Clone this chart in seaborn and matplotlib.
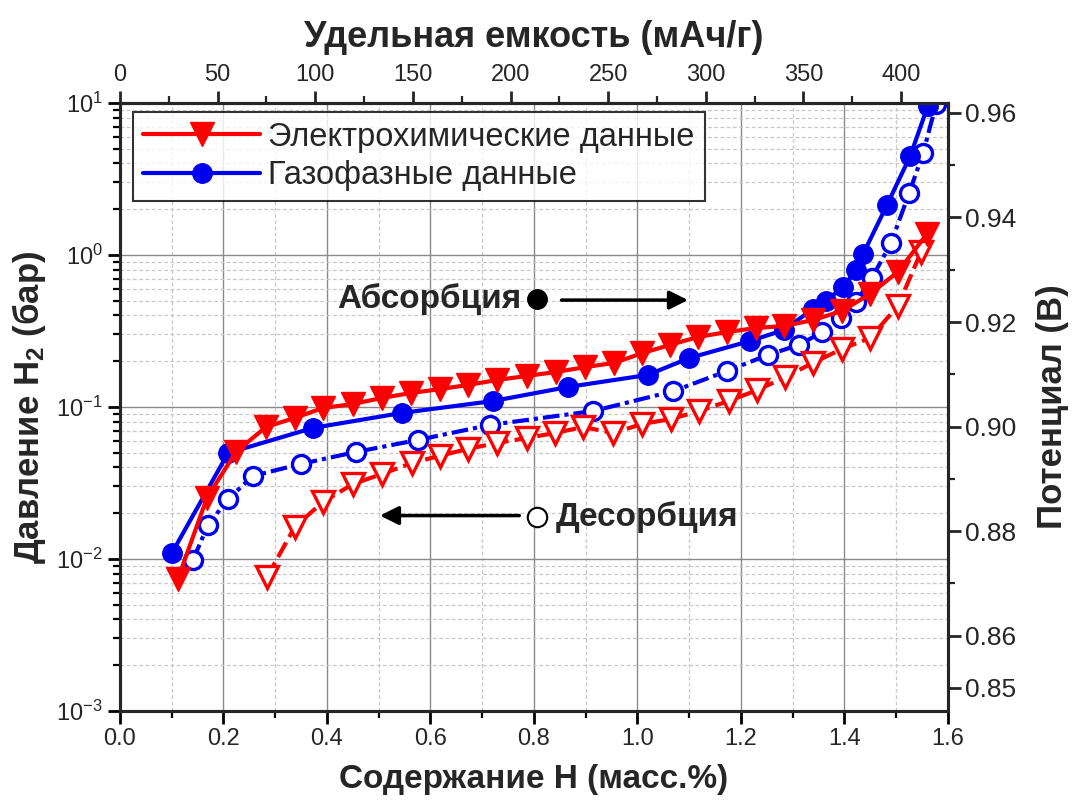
import numpy as np
import pandas as pd
import matplotlib
matplotlib.use("Agg")
import matplotlib.pyplot as plt
import seaborn as sns
from matplotlib.ticker import LogLocator, MultipleLocator, FixedLocator, NullFormatter, FormatStrFormatter

# ---------------- data ----------------
# Electrochemical data, absorption (filled red triangles)
ec_abs_x = [0.112, 0.168, 0.224, 0.282, 0.338, 0.392, 0.450, 0.506, 0.562, 0.618, 0.672, 0.729,
            0.786, 0.843, 0.899, 0.955, 1.009, 1.063, 1.117, 1.173, 1.229, 1.283, 1.339, 1.395,
            1.449, 1.503, 1.559]
ec_abs_p = [0.0074, 0.0252, 0.0506, 0.0738, 0.0848, 0.0984, 0.1047, 0.1146, 0.1236, 0.131, 0.1396,
            0.1506, 0.160, 0.170, 0.183, 0.195, 0.226, 0.256, 0.289, 0.311, 0.331, 0.341, 0.373,
            0.428, 0.553, 0.773, 1.37]
# Electrochemical data, desorption (open red triangles)
ec_des_x = [0.284, 0.338, 0.392, 0.450, 0.506, 0.564, 0.618, 0.672, 0.729, 0.786, 0.841, 0.895,
            0.953, 1.009, 1.065, 1.119, 1.176, 1.231, 1.285, 1.339, 1.395, 1.449, 1.503, 1.548]
ec_des_p = [0.0076, 0.0163, 0.0237, 0.0311, 0.0362, 0.0428, 0.0477, 0.053, 0.058, 0.0625, 0.0675,
            0.0738, 0.0675, 0.0773, 0.0834, 0.094, 0.1095, 0.129, 0.157, 0.195, 0.241, 0.284,
            0.461, 1.05]
# Gas-phase data, absorption (filled blue circles)
gas_abs_x = [0.100, 0.209, 0.373, 0.545, 0.721, 0.866, 1.020, 1.100, 1.217, 1.283, 1.339, 1.364,
             1.397, 1.422, 1.436, 1.482, 1.527, 1.561]
gas_abs_p = [0.0109, 0.0498, 0.0728, 0.0914, 0.1095, 0.1355, 0.1625, 0.210, 0.2715, 0.321, 0.4415,
             0.498, 0.615, 0.796, 1.016, 2.13, 4.48, 9.55]
# Gas-phase data, desorption (open blue circles)
gas_des_x = [0.141, 0.170, 0.209, 0.257, 0.350, 0.456, 0.576, 0.715, 0.914, 1.069, 1.173, 1.252,
             1.312, 1.357, 1.393, 1.422, 1.453, 1.490, 1.525, 1.552, 1.577]
gas_des_p = [0.00984, 0.0167, 0.0248, 0.0352, 0.0422, 0.0506, 0.0607, 0.0762, 0.094, 0.127, 0.1725,
             0.220, 0.256, 0.311, 0.385, 0.491, 0.706, 1.20, 2.56, 4.69, 9.85]

legend_labels = ["Электрохимические данные", "Газофазные данные"]
x_label = "Содержание H (масс.%)"
y_label = "Давление H$_\\mathbf{2}$ (бар)"
top_label = "Удельная емкость (мАч/г)"
right_label = "Потенциал (В)"
right_ticks = [0.85, 0.86, 0.88, 0.90, 0.92, 0.94, 0.96]
top_ticks = [0, 50, 100, 150, 200, 250, 300, 350, 400]
capacity_per_wt = 265.0  # mAh/g per wt.% H

# ---------------- style ----------------
sns.set_theme(style="white")
plt.rcParams['font.family'] = ['Liberation Sans', 'DejaVu Sans']
plt.rcParams['mathtext.fontset'] = 'custom'
plt.rcParams['mathtext.rm'] = 'Liberation Sans'
plt.rcParams['mathtext.bf'] = 'Liberation Sans:bold'
plt.rcParams['mathtext.it'] = 'Liberation Sans:italic'

RED = '#ff0000'
BLUE = '#0000f0'

fig = plt.figure(figsize=(10.73, 8.01), dpi=100)
ax = fig.add_axes([0.1118, 0.1124, 0.7717, 0.759])

ax.set_yscale('log')
ax.set_xlim(0, 1.6)
ax.set_ylim(1e-3, 1e1)

# grid
ax.xaxis.set_major_locator(MultipleLocator(0.2))
ax.xaxis.set_minor_locator(MultipleLocator(0.1))
ax.yaxis.set_major_locator(LogLocator(base=10, numticks=10))
ax.yaxis.set_minor_locator(LogLocator(base=10, subs=np.arange(2, 10), numticks=20))
ax.yaxis.set_minor_formatter(NullFormatter())
ax.grid(True, which='major', color='#8a8a8a', lw=1.0, ls='-', zorder=0)
ax.grid(True, which='minor', color='#c8c8c8', lw=0.9, ls=(0, (3, 2)), zorder=0)
ax.set_axisbelow(True)

lw = 3.0
# desorption curves (open markers)
sns.lineplot(x=gas_des_x, y=gas_des_p, ax=ax, sort=False, estimator=None, color=BLUE,
             lw=lw, linestyle=(0, (4, 1.2, 1, 1.2)), marker='o', markersize=13,
             markerfacecolor='white', markeredgecolor=BLUE, markeredgewidth=2.4, zorder=3)
sns.lineplot(x=ec_des_x, y=ec_des_p, ax=ax, sort=False, estimator=None, color=RED,
             lw=lw, linestyle=(0, (4, 1.5)), marker='v', markersize=16,
             markerfacecolor='white', markeredgecolor=RED, markeredgewidth=2.4, zorder=3)
# absorption curves (filled markers)
sns.lineplot(x=gas_abs_x, y=gas_abs_p, ax=ax, sort=False, estimator=None, color=BLUE,
             lw=lw, linestyle='-', marker='o', markersize=14,
             markerfacecolor=BLUE, markeredgecolor=BLUE, markeredgewidth=1, zorder=4)
sns.lineplot(x=ec_abs_x, y=ec_abs_p, ax=ax, sort=False, estimator=None, color=RED,
             lw=lw, linestyle='-', marker='v', markersize=17,
             markerfacecolor=RED, markeredgecolor=RED, markeredgewidth=1, zorder=5)

lines = ax.get_lines()
h_ec = lines[3]
h_gas = lines[2]
leg = ax.legend([h_ec, h_gas], legend_labels, loc='upper left', bbox_to_anchor=(0.0157, 0.985),
                fontsize=23.5, frameon=True, fancybox=False, edgecolor='black', handlelength=3.6,
                borderpad=0.3, labelspacing=0.22, handletextpad=0.25, borderaxespad=0.0)
leg.get_frame().set_linewidth(1.5)
leg.set_zorder(10)

# annotations
ax.text(0.775, 0.51, "Абсорбция", ha='right', va='center', fontsize=24, fontweight='bold', zorder=6)
ax.plot([0.806], [0.51], marker='o', markersize=14, color='black', zorder=6)
ax.annotate("", xy=(1.103, 0.505), xytext=(0.848, 0.505),
            arrowprops=dict(arrowstyle='-|>', color='black', lw=2.5, mutation_scale=28), zorder=6)
ax.text(0.842, 0.0189, "Десорбция", ha='left', va='center', fontsize=24, fontweight='bold', zorder=6)
ax.plot([0.806], [0.0189], marker='o', markersize=14, markerfacecolor='white',
        markeredgecolor='black', markeredgewidth=1.5, zorder=6)
ax.annotate("", xy=(0.497, 0.0193), xytext=(0.777, 0.0193),
            arrowprops=dict(arrowstyle='-|>', color='black', lw=2.5, mutation_scale=28), zorder=6)

# axes styling
for sp in ax.spines.values():
    sp.set_linewidth(2.2)
    sp.set_color('black')
ax.xaxis.set_major_formatter(FormatStrFormatter('%.1f'))
ax.tick_params(axis='both', which='major', direction='out', length=9, width=2, labelsize=17,
               color='black', bottom=True, left=True, top=False, right=False)
ax.tick_params(axis='both', which='minor', direction='out', length=5, width=1.6,
               color='black', bottom=True, left=True, top=False, right=False)
ax.set_xlabel(x_label, fontsize=24, fontweight='bold', labelpad=10)
ax.set_ylabel(y_label, fontsize=25, fontweight='bold', labelpad=6)

# top axis: capacity
top = ax.secondary_xaxis('top', functions=(lambda x: x * capacity_per_wt,
                                           lambda c: c / capacity_per_wt))
top.xaxis.set_major_locator(FixedLocator(top_ticks))
top.xaxis.set_minor_locator(MultipleLocator(25))
top.tick_params(axis='x', which='major', direction='out', length=9, width=2, labelsize=17)
top.tick_params(axis='x', which='minor', direction='out', length=5, width=1.6)
top.spines['top'].set_linewidth(2.2)
top.set_xlabel(top_label, fontsize=26, fontweight='bold', labelpad=12)

# right axis: potential
right = ax.twinx()
right.set_ylim(0.8456, 0.9619)
right.yaxis.set_major_locator(FixedLocator(right_ticks))
right.yaxis.set_minor_locator(FixedLocator([0.87, 0.89, 0.91, 0.93, 0.95]))
right.yaxis.set_major_formatter(FormatStrFormatter('%.2f'))
right.tick_params(axis='y', which='major', direction='out', length=9, width=2, labelsize=19)
right.tick_params(axis='y', which='minor', direction='out', length=5, width=1.6)
for sp in right.spines.values():
    sp.set_linewidth(2.2)
right.set_ylabel(right_label, fontsize=25, fontweight='bold', labelpad=14)
right.grid(False)

fig.savefig("out.png", dpi=100)
